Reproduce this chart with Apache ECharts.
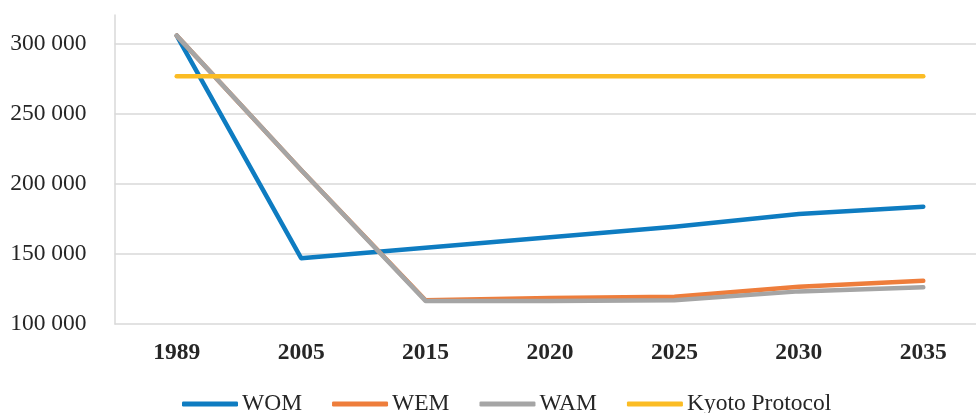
<!DOCTYPE html>
<html>
<head>
<meta charset="utf-8">
<script src="https://cdn.jsdelivr.net/npm/echarts@6/dist/echarts.min.js"></script>
<style>
  html, body { margin: 0; padding: 0; background: #ffffff; }
  #chart { width: 976px; height: 413px; }
</style>
</head>
<body>
<div id="chart"></div>
<script>
// Emission scenarios by year
const years = ['1989', '2005', '2015', '2020', '2025', '2030', '2035'];
const wom = [306000, 147000, 154500, 162000, 169500, 178500, 183800];
const wem = [306000, 210000, 117000, 118500, 119500, 126600, 130900];
const wam = [306000, 210000, 116500, 116500, 117000, 123300, 126200];
const kyoto = [277000, 277000, 277000, 277000, 277000, 277000, 277000];
const yTicks = [100000, 150000, 200000, 250000, 300000];

const textColor = '#262626';
const gridColor = '#d9d9d9';
const font = '"Liberation Serif", "Times New Roman", serif';

function fmt(v) {
  return String(v).replace(/\B(?=(\d{3})+(?!\d))/g, ' ');
}

function lineSeries(name, data, color) {
  return {
    name: name,
    type: 'line',
    data: data,
    symbol: 'none',
    smooth: false,
    lineStyle: { color: color, width: 4.5, cap: 'round', join: 'round' },
    itemStyle: { color: color },
    emphasis: { disabled: true },
    animation: false
  };
}

const chart = echarts.init(document.getElementById('chart'), null, { renderer: 'canvas' });
chart.setOption({
  backgroundColor: '#ffffff',
  animation: false,
  textStyle: { fontFamily: font, color: textColor },
  grid: {
    left: 114.5, top: 15, width: 871, height: 309,
    containLabel: false, outerBoundsMode: 'none'
  },
  legend: {
    bottom: -8,
    left: 177,
    itemWidth: 56,
    itemHeight: 5,
    itemGap: 30,
    icon: 'roundRect',
    textStyle: { fontFamily: font, fontSize: 23.5, color: textColor, padding: [0, 0, 0, -1] },
    data: ['WOM', 'WEM', 'WAM', 'Kyoto Protocol']
  },
  xAxis: {
    type: 'category',
    data: years,
    boundaryGap: true,
    axisLine: { show: false },
    axisTick: { show: false },
    axisLabel: {
      fontFamily: font, fontSize: 23.5, fontWeight: 'bold', color: textColor, margin: 17
    },
    splitLine: { show: false }
  },
  yAxis: {
    type: 'value',
    min: yTicks[0],
    max: 320714,
    interval: yTicks[1] - yTicks[0],
    axisLine: { show: true, lineStyle: { color: gridColor, width: 1.5 } },
    axisTick: { show: false },
    axisLabel: {
      fontFamily: font, fontSize: 23.5, color: textColor, margin: 28,
      formatter: function (v) { return yTicks.indexOf(v) >= 0 ? fmt(v) : ''; }
    },
    splitLine: {
      lineStyle: {
        color: [gridColor, gridColor, gridColor, gridColor, gridColor, 'rgba(0,0,0,0)'],
        width: 1.5
      }
    }
  },
  series: [
    lineSeries('WOM', wom, '#0E7CC1'),
    lineSeries('WEM', wem, '#EE7D3B'),
    lineSeries('WAM', wam, '#A5A5A5'),
    lineSeries('Kyoto Protocol', kyoto, '#FBBC24')
  ]
});
</script>
</body>
</html>
